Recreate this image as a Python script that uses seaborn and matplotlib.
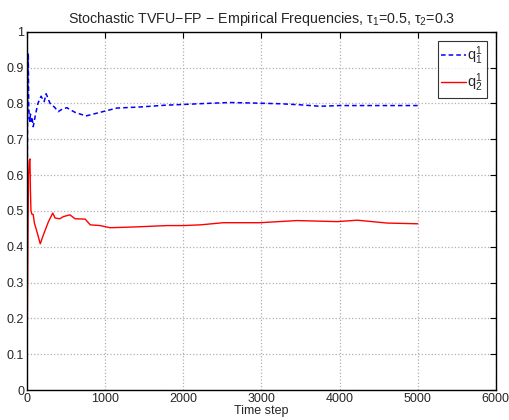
import matplotlib
matplotlib.use("Agg")
import matplotlib.pyplot as plt
import seaborn as sns
import pandas as pd
import numpy as np

# empirical frequency of player 1 (blue dashed)
t_q1 = [1, 8, 17, 22, 28, 35, 45, 55, 65, 80, 110, 140, 180, 220, 245, 295, 350, 400,
        450, 510, 615, 755, 935, 1150, 1450, 1770, 2000, 2300, 2600, 2900, 3245, 3500,
        3750, 4000, 4500, 5000]
q1 = [0.5, 0.8, 0.94, 0.8, 0.76, 0.75, 0.77, 0.75, 0.76, 0.735, 0.77, 0.8, 0.82, 0.805,
      0.827, 0.8, 0.79, 0.777, 0.784, 0.788, 0.775, 0.765, 0.775, 0.787, 0.79, 0.795,
      0.797, 0.8, 0.8025, 0.801, 0.799, 0.796, 0.792, 0.794, 0.794, 0.794]

# empirical frequency of player 2 (red solid)
t_q2 = [1, 5, 10, 15, 20, 30, 38, 45, 51, 65, 80, 95, 130, 170, 210, 275, 330, 360,
        420, 465, 550, 615, 745, 810, 935, 1065, 1360, 1580, 1795, 2000, 2220, 2515,
        2985, 3455, 3970, 4227, 4610, 5000]
q2 = [0.05, 0.2, 0.35, 0.5, 0.6, 0.64, 0.645, 0.55, 0.5, 0.49, 0.49, 0.466, 0.44, 0.408,
      0.433, 0.47, 0.494, 0.48, 0.478, 0.484, 0.489, 0.478, 0.477, 0.461, 0.459, 0.453,
      0.455, 0.457, 0.459, 0.459, 0.461, 0.467, 0.467, 0.473, 0.470, 0.474, 0.466, 0.464]

x_ticks = [0, 1000, 2000, 3000, 4000, 5000, 6000]
y_ticks = [0, 0.1, 0.2, 0.3, 0.4, 0.5, 0.6, 0.7, 0.8, 0.9, 1]
y_labels = ["0", "0.1", "0.2", "0.3", "0.4", "0.5", "0.6", "0.7", "0.8", "0.9", "1"]

df1 = pd.DataFrame({"t": t_q1, "q": q1})
df2 = pd.DataFrame({"t": t_q2, "q": q2})

sns.set_style("white")
plt.rcParams["font.family"] = ["Liberation Sans", "DejaVu Sans"]
plt.rcParams["mathtext.fontset"] = "custom"
plt.rcParams["mathtext.rm"] = "Liberation Sans"
plt.rcParams["mathtext.it"] = "Liberation Sans"

fig = plt.figure(figsize=(5.09, 4.2), dpi=100)
ax = fig.add_axes([0.053, 0.0714, 0.921, 0.853])

sns.lineplot(data=df1, x="t", y="q", ax=ax, color="#0000ff", linestyle=(0, (3, 2)),
             linewidth=1.1, label=r"$q_1^1$")
sns.lineplot(data=df2, x="t", y="q", ax=ax, color="#ff0000", linewidth=1.0,
             label=r"$q_2^1$")

ax.set_xlim(0, 6000)
ax.set_ylim(0, 1)
ax.set_xticks(x_ticks)
ax.set_xticklabels([str(v) for v in x_ticks])
ax.set_yticks(y_ticks)
ax.set_yticklabels(y_labels)
ax.grid(True, linestyle=":", color="#b0b0b0", linewidth=0.9)
ax.tick_params(direction="in", length=4, width=0.8, labelsize=9, pad=2,
               top=True, right=True, color="black")
for s in ax.spines.values():
    s.set_color("black")
    s.set_linewidth(1.0)

ax.set_xlabel("Time step", fontsize=9, labelpad=0)
ax.set_ylabel("")
ax.set_title(r"Stochastic TVFU$-$FP $-$ Empirical Frequencies, $\tau_1$=0.5, $\tau_2$=0.3",
             fontsize=10.3, pad=6)

leg = ax.legend(loc="upper right", fontsize=10.5, frameon=True, fancybox=False,
                handlelength=1.7, borderaxespad=0.6, handletextpad=0.1,
                borderpad=0.25, labelspacing=0.35)
leg.get_frame().set_edgecolor("black")
leg.get_frame().set_linewidth(0.8)

fig.savefig("out.png", dpi=100)
